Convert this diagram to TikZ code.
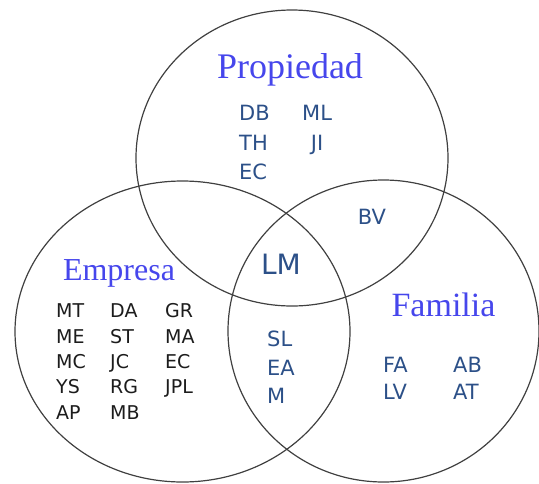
\documentclass[tikz,border=0pt]{standalone}
\usepackage{fontspec}
\setmainfont{Liberation Serif}
\newfontfamily\namefont{DejaVu Sans}
\definecolor{titleblue}{RGB}{70,70,236}
\definecolor{nameblue}{RGB}{44,80,136}
\definecolor{nameblack}{RGB}{28,28,28}
\definecolor{ringgray}{RGB}{64,64,64}

\begin{document}
\begin{tikzpicture}[x=1pt, y=-1pt,
    ring/.style={draw=ringgray, line width=1.2pt},
    title/.style={text=titleblue, anchor=base, inner sep=0pt},
    names/.style={text=nameblue, inner sep=0pt}]
    \useasboundingbox (0,0) rectangle (539,483);
    % circles
    \coordinate (P) at (292,158);
    \coordinate (E) at (182.5,331.5);
    \coordinate (F) at (383.5,331);
    \path[ring] (P) ellipse [x radius=156, y radius=148];
    \path[ring] (E) ellipse [x radius=167.5, y radius=150.5];
    \path[ring] (F) ellipse [x radius=155.5, y radius=151];
    % titles
    \node[title, font=\fontsize{36}{40}\selectfont] (propiedad) at (290,78) {Propiedad};
    \node[title, font=\fontsize{32}{36}\selectfont] (empresa) at (119,280) {Empresa};
    \node[title, font=\fontsize{34}{38}\selectfont] (familia) at (443.5,316) {Familia};
    % names
    \node[names, anchor=west, font=\namefont\fontsize{21}{29.5}\selectfont] (propnames) at (239,144.5)
        {\begin{tabular}{@{}p{63pt}@{}c@{}}DB & ML\\ TH & JI\\ EC & \end{tabular}};
    \node[names, anchor=west, text=nameblack, font=\namefont\fontsize{19}{25.3}\selectfont] (empnames) at (56,363.4)
        {\begin{tabular}{@{}p{54pt}@{}p{55pt}@{}l@{}}MT & DA & GR\\ ME & ST & MA\\ MC & JC & EC\\ YS & RG & JPL\\ AP & MB & \end{tabular}};
    \node[names, anchor=west, font=\namefont\fontsize{21}{28.5}\selectfont] (empfam) at (267,369.4)
        {\begin{tabular}{@{}l@{}}SL\\ EA\\ M\end{tabular}};
    \node[names, anchor=west, font=\namefont\fontsize{21}{27.5}\selectfont] (famnames) at (383,380.5)
        {\begin{tabular}{@{}p{70pt}@{}l@{}}FA & AB\\ LV & AT\end{tabular}};
    \node[names, font=\namefont\fontsize{21}{26}\selectfont] (propfam) at (372,217) {BV};
    \node[names, font=\namefont\fontsize{28}{34}\selectfont] (all) at (281,264) {LM};
\end{tikzpicture}
\end{document}
